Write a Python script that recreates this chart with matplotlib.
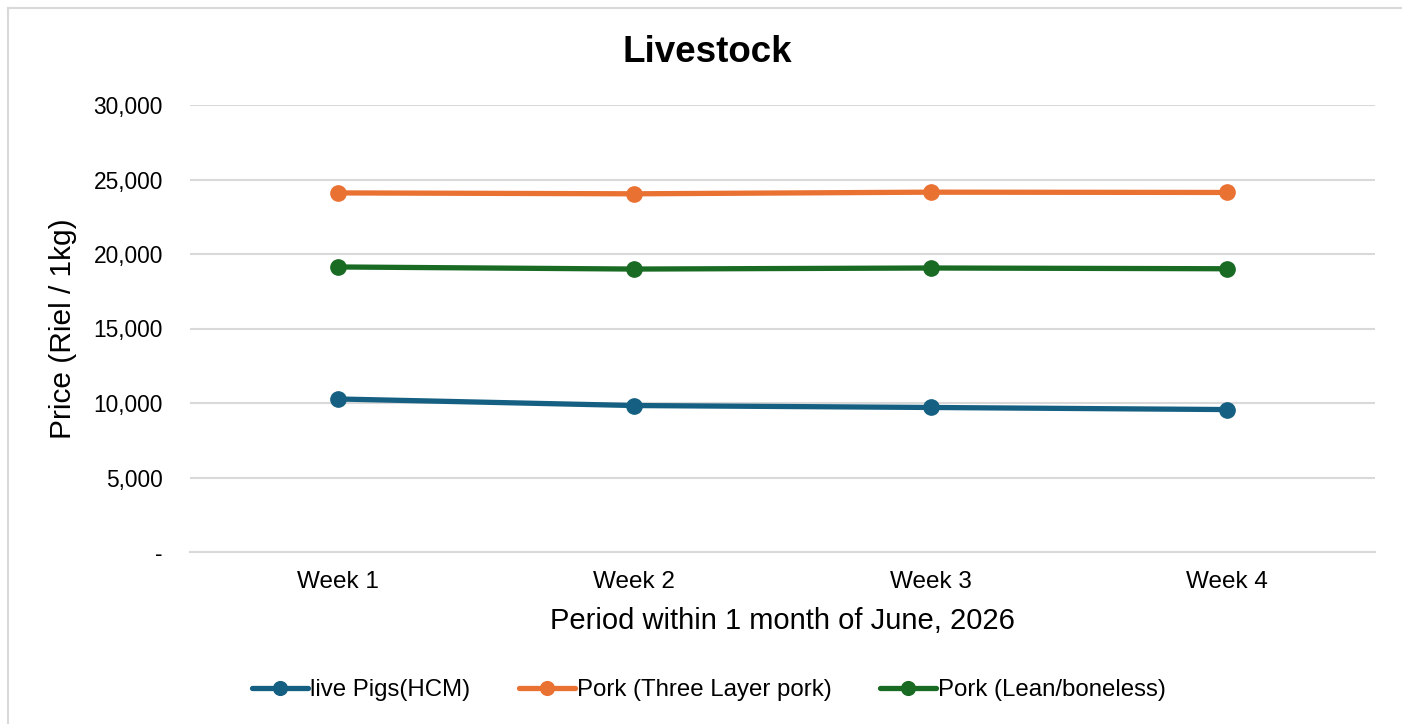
import matplotlib

matplotlib.use("Agg")
import matplotlib.pyplot as plt
from matplotlib.lines import Line2D
from matplotlib.ticker import FuncFormatter, MultipleLocator

plt.rcParams["font.family"] = ["Liberation Sans", "DejaVu Sans"]

weeks = ["Week 1", "Week 2", "Week 3", "Week 4"]
live_pigs = [10270, 9830, 9700, 9560]
three_layer = [24100, 24040, 24150, 24130]
lean_boneless = [19130, 18990, 19060, 19010]

series = [
    ("live Pigs(HCM)", live_pigs, "#156082"),
    ("Pork (Three Layer pork)", three_layer, "#E97132"),
    ("Pork (Lean/boneless)", lean_boneless, "#196B24"),
]

fig = plt.figure(figsize=(14.02, 7.24), dpi=100)
ax = fig.add_axes([190 / 1402, 1 - 552 / 724, 1185 / 1402, 447 / 724])

# light outer frame; only its left and top edges fall inside the canvas
fx, fy = 8 / 1402, 1 - 8 / 724
for xs, ys in [([fx, fx], [0, fy]), ([fx, 1], [fy, fy])]:
    fig.add_artist(Line2D(xs, ys, transform=fig.transFigure, color="#d9d9d9",
                          linewidth=1.5, zorder=0))

x = list(range(len(weeks)))
for label, values, colour in series:
    ax.plot(x, values, color=colour, linewidth=3.8, marker="o", markersize=11,
            label=label, solid_capstyle="round", zorder=3)

ax.set_xlim(-0.5, len(weeks) - 0.5)
ax.set_ylim(0, 30000)
ax.yaxis.set_major_locator(MultipleLocator(5000))
ax.yaxis.set_major_formatter(FuncFormatter(lambda v, _: "-" if v == 0 else f"{v:,.0f}"))
ax.set_xticks(x, weeks)

ax.grid(True, axis="y", color="#d9d9d9", linewidth=1.5)
ax.set_axisbelow(True)
for side in ["top", "right", "left"]:
    ax.spines[side].set_visible(False)
ax.spines["bottom"].set_color("#d9d9d9")
ax.spines["bottom"].set_linewidth(1.5)
ax.tick_params(axis="both", length=0, colors="black")
ax.tick_params(axis="y", labelsize=16.4, pad=19.5)
ax.tick_params(axis="x", labelsize=17.5, pad=14)

ax.set_ylabel("Price (Riel / 1kg)", fontsize=21.5, labelpad=12)
ax.set_xlabel("Period within 1 month of June, 2026", fontsize=21, labelpad=10)
fig.text(707 / 1402, 1 - 52 / 724, "Livestock", fontsize=26.5, fontweight="bold",
         ha="center", va="center")

handles, labels = ax.get_legend_handles_labels()
fig.legend(handles, labels, loc="center", bbox_to_anchor=(709 / 1402, 1 - 690 / 724),
           ncol=3, frameon=False, fontsize=17.3, handlelength=2.35,
           handletextpad=0.08, columnspacing=2.0, markerscale=0.9)

fig.savefig("out.png", dpi=100, facecolor="white")
